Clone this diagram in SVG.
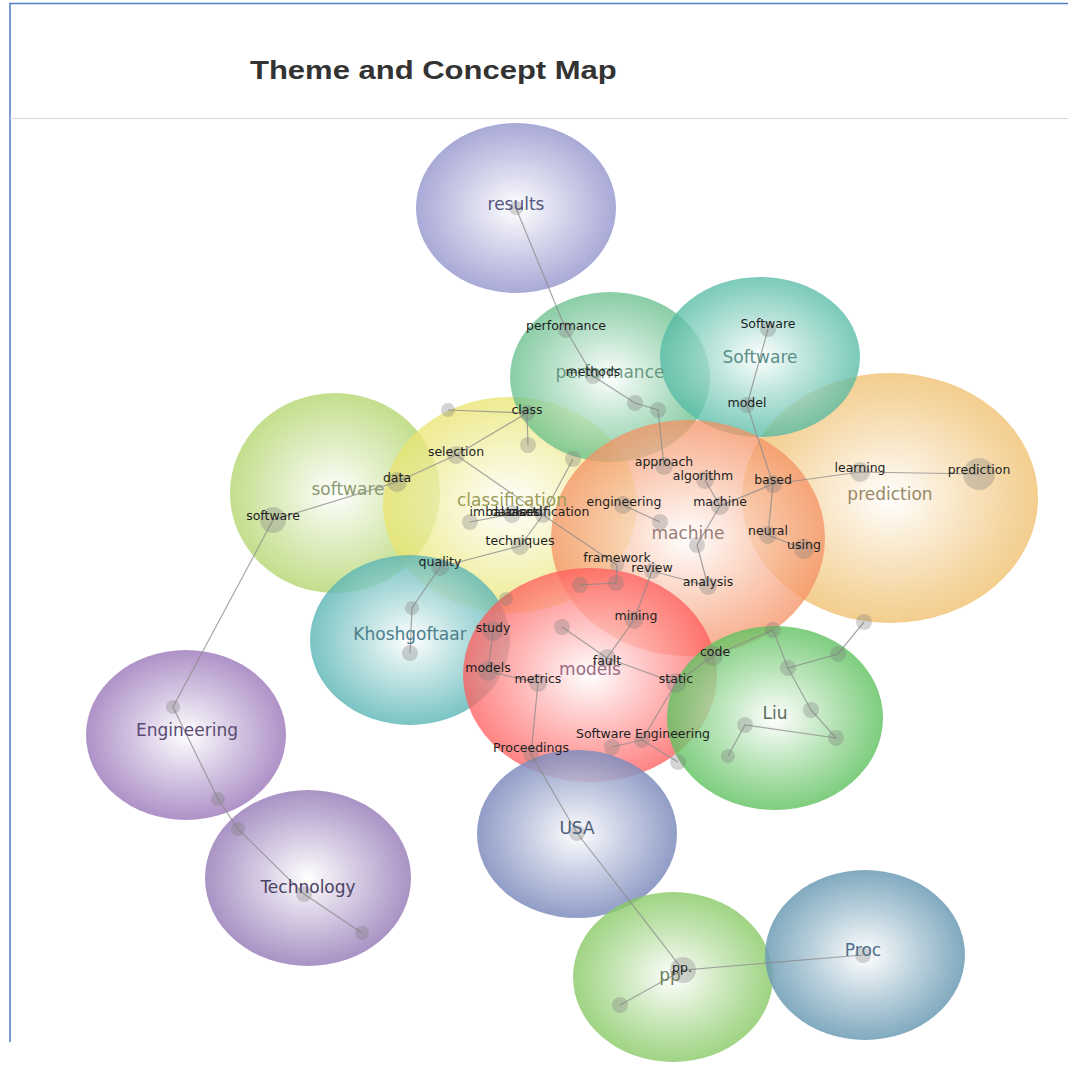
<svg xmlns="http://www.w3.org/2000/svg" width="1068" height="1067" viewBox="0 0 1068 1067">
  <defs>
    <radialGradient id="g-results"><stop offset="0" stop-color="#ffffff" stop-opacity="0.9"/><stop offset="1" stop-color="#9a9ad0" stop-opacity="0.85"/></radialGradient>
    <radialGradient id="g-performance"><stop offset="0" stop-color="#ffffff" stop-opacity="0.85"/><stop offset="1" stop-color="#63bd88" stop-opacity="0.75"/></radialGradient>
    <radialGradient id="g-Software"><stop offset="0" stop-color="#ffffff" stop-opacity="0.85"/><stop offset="1" stop-color="#4fb9a2" stop-opacity="0.75"/></radialGradient>
    <radialGradient id="g-prediction"><stop offset="0" stop-color="#ffffff" stop-opacity="0.85"/><stop offset="1" stop-color="#efbd68" stop-opacity="0.75"/></radialGradient>
    <radialGradient id="g-software"><stop offset="0" stop-color="#ffffff" stop-opacity="0.85"/><stop offset="1" stop-color="#b4d670" stop-opacity="0.8"/></radialGradient>
    <radialGradient id="g-classification"><stop offset="0" stop-color="#ffffff" stop-opacity="0.8"/><stop offset="1" stop-color="#e9e46c" stop-opacity="0.75"/></radialGradient>
    <radialGradient id="g-machine"><stop offset="0" stop-color="#ffffff" stop-opacity="0.8"/><stop offset="1" stop-color="#f59062" stop-opacity="0.75"/></radialGradient>
    <radialGradient id="g-Khoshgoftaar"><stop offset="0" stop-color="#ffffff" stop-opacity="0.85"/><stop offset="1" stop-color="#5ab5b5" stop-opacity="0.8"/></radialGradient>
    <radialGradient id="g-models"><stop offset="0" stop-color="#ffffff" stop-opacity="0.8"/><stop offset="1" stop-color="#ff5a5a" stop-opacity="0.75"/></radialGradient>
    <radialGradient id="g-Liu"><stop offset="0" stop-color="#ffffff" stop-opacity="0.85"/><stop offset="1" stop-color="#5ec15e" stop-opacity="0.8"/></radialGradient>
    <radialGradient id="g-Engineering"><stop offset="0" stop-color="#ffffff" stop-opacity="0.9"/><stop offset="1" stop-color="#a07fbe" stop-opacity="0.85"/></radialGradient>
    <radialGradient id="g-Technology"><stop offset="0" stop-color="#ffffff" stop-opacity="0.9"/><stop offset="1" stop-color="#9a80ba" stop-opacity="0.85"/></radialGradient>
    <radialGradient id="g-USA"><stop offset="0" stop-color="#ffffff" stop-opacity="0.9"/><stop offset="1" stop-color="#7d8cbd" stop-opacity="0.85"/></radialGradient>
    <radialGradient id="g-pp"><stop offset="0" stop-color="#ffffff" stop-opacity="0.9"/><stop offset="1" stop-color="#88c965" stop-opacity="0.8"/></radialGradient>
    <radialGradient id="g-Proc"><stop offset="0" stop-color="#ffffff" stop-opacity="0.9"/><stop offset="1" stop-color="#6b9bb4" stop-opacity="0.85"/></radialGradient>
  </defs>
  <style>
    .frame { stroke: #4f7fc4; stroke-width: 1.5; fill: none; }
    .rule { stroke: #d6d6d6; stroke-width: 1.2; }
    .title { font-family: "Liberation Sans", Arial, sans-serif; font-weight: bold; font-size: 26.5px; fill: #333; }
    .link { stroke: #8a8a8a; stroke-width: 1.2; stroke-opacity: 0.75; fill: none; }
    .dot { fill: #7a7a7a; fill-opacity: 0.32; }
    .concept { font-family: "DejaVu Sans", Verdana, sans-serif; font-size: 12.5px; fill: #1e1e1e; text-anchor: middle; }
    .theme { font-family: "DejaVu Sans", Verdana, sans-serif; font-size: 17px; text-anchor: middle; }
  </style>

  <rect width="1068" height="1067" fill="#ffffff"/>
  <path class="frame" d="M10 1042 V3.5 H1068"/>
  <line class="rule" x1="10" y1="118.5" x2="1068" y2="118.5"/>
  <text class="title" transform="translate(250 79) scale(1.17 1)">Theme and Concept Map</text>

  <!-- theme bubbles -->
  <g id="theme-results"><ellipse cx="516" cy="208" rx="100" ry="85" fill="url(#g-results)"/></g>
  <g id="theme-software"><ellipse cx="335" cy="493" rx="105" ry="100" fill="url(#g-software)"/></g>
  <g id="theme-Engineering"><ellipse cx="186" cy="735" rx="100" ry="85" fill="url(#g-Engineering)"/></g>
  <g id="theme-Technology"><ellipse cx="308" cy="878" rx="103" ry="88" fill="url(#g-Technology)"/></g>
  <g id="theme-prediction"><ellipse cx="890" cy="498" rx="148" ry="125" fill="url(#g-prediction)"/></g>
  <g id="theme-classification"><ellipse cx="510" cy="505" rx="127" ry="108" fill="url(#g-classification)"/></g>
  <g id="theme-performance"><ellipse cx="610" cy="377" rx="100" ry="85" fill="url(#g-performance)"/></g>
  <g id="theme-Software"><ellipse cx="760" cy="357" rx="100" ry="80" fill="url(#g-Software)"/></g>
  <g id="theme-machine"><ellipse cx="688" cy="538" rx="137" ry="118" fill="url(#g-machine)"/></g>
  <g id="theme-Khoshgoftaar"><ellipse cx="410" cy="640" rx="100" ry="85" fill="url(#g-Khoshgoftaar)"/></g>
  <g id="theme-models"><ellipse cx="590" cy="675" rx="127" ry="107" fill="url(#g-models)"/></g>
  <g id="theme-Liu"><ellipse cx="775" cy="718" rx="108" ry="92" fill="url(#g-Liu)"/></g>
  <g id="theme-USA"><ellipse cx="577" cy="834" rx="100" ry="84" fill="url(#g-USA)"/></g>
  <g id="theme-pp"><ellipse cx="673" cy="977" rx="100" ry="85" fill="url(#g-pp)"/></g>
  <g id="theme-Proc"><ellipse cx="865" cy="955" rx="100" ry="85" fill="url(#g-Proc)"/></g>

  <!-- concept links -->
  <g id="connectors" class="link">
    <path d="M516 208 L566 330 L593 376 L635 403 L658 410 L664 466"/>
    <path d="M768 329 L747 405 L773 484 L768 535 L804 549"/>
    <path d="M773 484 L860 472 L979 474"/>
    <path d="M773 484 L720 506 L697 545 L708 586"/>
    <path d="M705 480 L720 506"/>
    <path d="M652 571 L708 586"/>
    <path d="M652 571 L634 620 L607 658 L676 683 L713 656 L773 630"/>
    <path d="M562 627 L607 658"/>
    <path d="M676 683 L642 740 L612 747"/>
    <path d="M642 740 L678 762"/>
    <path d="M456 455 L543 515 L617 565 L616 583 L580 585"/>
    <path d="M448 410 L527 413 L528 445"/>
    <path d="M527 413 L456 455 L397 482 L273 520 L173 707 L218 799 L238 829 L304 894 L362 933"/>
    <path d="M573 459 L543 515 L520 546 L440 567 L412 608 L410 653"/>
    <path d="M470 522 L512 514"/>
    <path d="M623 505 L660 522"/>
    <path d="M493 631 L488 671 L538 683 L531 754 L577 833 L683 970 L863 955"/>
    <path d="M683 970 L620 1005"/>
    <path d="M773 630 L788 668 L838 654 L864 622"/>
    <path d="M788 668 L811 710 L836 738 L745 725 L728 756"/>
  </g>

  <!-- concept dots -->
  <g id="concept-dots" class="dot">
    <circle cx="516" cy="208" r="7"/>
    <circle cx="566" cy="330" r="8"/>
    <circle cx="593" cy="376" r="8"/>
    <circle cx="635" cy="403" r="8"/>
    <circle cx="658" cy="410" r="8"/>
    <circle cx="768" cy="329" r="8"/>
    <circle cx="747" cy="405" r="8"/>
    <circle cx="527" cy="413" r="8"/>
    <circle cx="448" cy="410" r="7"/>
    <circle cx="528" cy="445" r="8"/>
    <circle cx="573" cy="459" r="8"/>
    <circle cx="456" cy="455" r="9"/>
    <circle cx="397" cy="482" r="10"/>
    <circle cx="273" cy="520" r="13"/>
    <circle cx="470" cy="522" r="8"/>
    <circle cx="512" cy="514" r="9"/>
    <circle cx="543" cy="515" r="8"/>
    <circle cx="520" cy="546" r="9"/>
    <circle cx="440" cy="567" r="9"/>
    <circle cx="412" cy="608" r="7"/>
    <circle cx="410" cy="653" r="8"/>
    <circle cx="664" cy="466" r="9"/>
    <circle cx="705" cy="480" r="9"/>
    <circle cx="623" cy="505" r="9"/>
    <circle cx="660" cy="522" r="8"/>
    <circle cx="720" cy="506" r="9"/>
    <circle cx="697" cy="545" r="8"/>
    <circle cx="708" cy="586" r="9"/>
    <circle cx="773" cy="484" r="9"/>
    <circle cx="768" cy="535" r="9"/>
    <circle cx="804" cy="549" r="10"/>
    <circle cx="860" cy="472" r="10"/>
    <circle cx="979" cy="474" r="16"/>
    <circle cx="617" cy="565" r="7"/>
    <circle cx="616" cy="583" r="8"/>
    <circle cx="580" cy="585" r="8"/>
    <circle cx="652" cy="571" r="8"/>
    <circle cx="634" cy="620" r="9"/>
    <circle cx="607" cy="658" r="9"/>
    <circle cx="562" cy="627" r="8"/>
    <circle cx="676" cy="683" r="10"/>
    <circle cx="713" cy="656" r="10"/>
    <circle cx="506" cy="599" r="7"/>
    <circle cx="493" cy="631" r="10"/>
    <circle cx="488" cy="671" r="10"/>
    <circle cx="538" cy="683" r="9"/>
    <circle cx="642" cy="740" r="8"/>
    <circle cx="612" cy="747" r="8"/>
    <circle cx="678" cy="762" r="8"/>
    <circle cx="531" cy="754" r="8"/>
    <circle cx="577" cy="833" r="8"/>
    <circle cx="683" cy="970" r="13"/>
    <circle cx="620" cy="1005" r="8"/>
    <circle cx="863" cy="955" r="8"/>
    <circle cx="773" cy="630" r="8"/>
    <circle cx="788" cy="668" r="8"/>
    <circle cx="838" cy="654" r="8"/>
    <circle cx="864" cy="622" r="8"/>
    <circle cx="811" cy="710" r="8"/>
    <circle cx="836" cy="738" r="8"/>
    <circle cx="745" cy="725" r="8"/>
    <circle cx="728" cy="756" r="7"/>
    <circle cx="173" cy="707" r="7"/>
    <circle cx="218" cy="799" r="7"/>
    <circle cx="238" cy="829" r="7"/>
    <circle cx="304" cy="894" r="8"/>
    <circle cx="362" cy="933" r="7"/>
  </g>

  <!-- theme labels -->
  <g id="theme-labels" class="theme">
    <text x="516" y="210" fill="#55557e">results</text>
    <text x="610" y="378" fill="#5b8c74" fill-opacity="0.9">performance</text>
    <text x="760" y="363" fill="#5a8f88">Software</text>
    <text x="890" y="500" fill="#9a8866">prediction</text>
    <text x="348" y="495" fill="#8c9a72">software</text>
    <text x="512" y="506" fill="#9c9c58">classification</text>
    <text x="688" y="539" fill="#9a7e7a">machine</text>
    <text x="410" y="640" fill="#4d7f8c">Khoshgoftaar</text>
    <text x="590" y="675" fill="#9a6a84">models</text>
    <text x="775" y="719" fill="#5d6c5d">Liu</text>
    <text x="187" y="736" fill="#5a4a72">Engineering</text>
    <text x="308" y="893" fill="#4c4262">Technology</text>
    <text x="577" y="834" fill="#4c5c7c">USA</text>
    <text x="670" y="981" fill="#6d7f5a">pp</text>
    <text x="863" y="956" fill="#4d6d8c">Proc</text>
  </g>

  <!-- concept labels -->
  <g id="concept-labels" class="concept">
    <text x="566" y="330">performance</text>
    <text x="593" y="376">methods</text>
    <text x="768" y="328">Software</text>
    <text x="747" y="407">model</text>
    <text x="527" y="414">class</text>
    <text x="456" y="456">selection</text>
    <text x="397" y="482">data</text>
    <text x="273" y="520">software</text>
    <text x="506" y="516">imbalanced</text>
    <text x="514" y="516">dataset</text>
    <text x="549" y="516">classification</text>
    <text x="520" y="545">techniques</text>
    <text x="440" y="566">quality</text>
    <text x="664" y="466">approach</text>
    <text x="703" y="480">algorithm</text>
    <text x="624" y="506">engineering</text>
    <text x="720" y="506">machine</text>
    <text x="773" y="484">based</text>
    <text x="768" y="535">neural</text>
    <text x="804" y="549">using</text>
    <text x="860" y="472">learning</text>
    <text x="979" y="474">prediction</text>
    <text x="617" y="562">framework</text>
    <text x="652" y="572">review</text>
    <text x="708" y="586">analysis</text>
    <text x="636" y="620">mining</text>
    <text x="607" y="665">fault</text>
    <text x="676" y="683">static</text>
    <text x="715" y="656">code</text>
    <text x="493" y="632">study</text>
    <text x="488" y="672">models</text>
    <text x="538" y="683">metrics</text>
    <text x="643" y="738">Software Engineering</text>
    <text x="531" y="752">Proceedings</text>
    <text x="682" y="972">pp.</text>
  </g>
</svg>
